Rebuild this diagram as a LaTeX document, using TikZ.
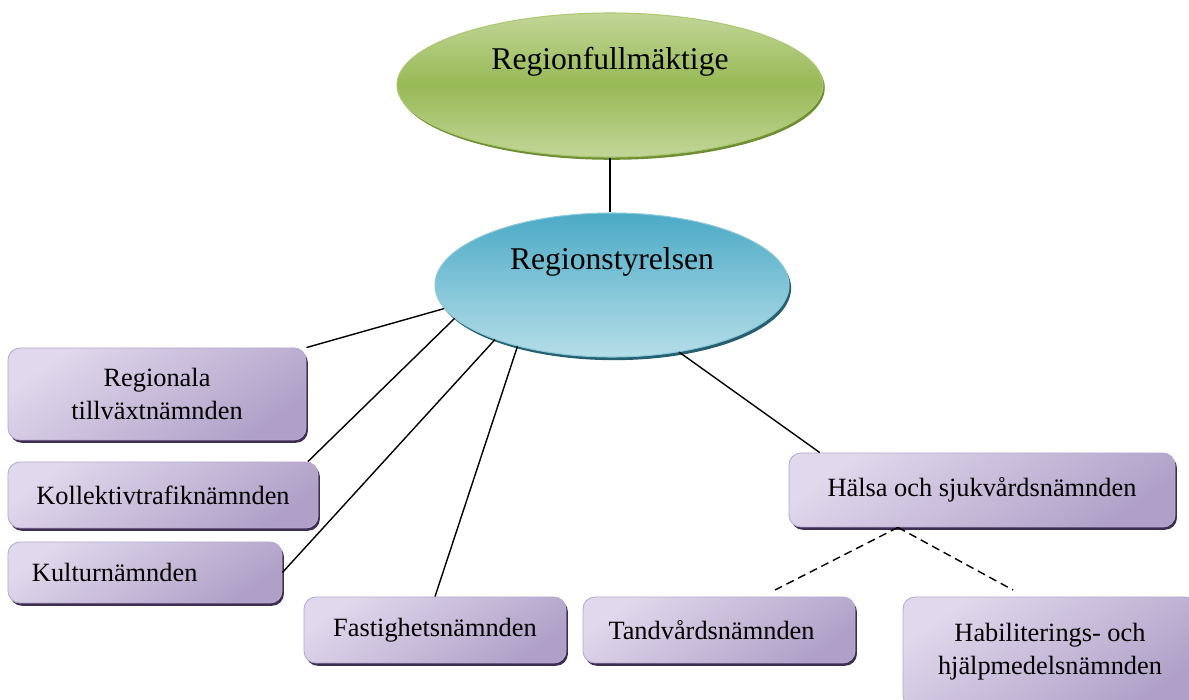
\documentclass[tikz,border=0pt]{standalone}
\usepackage{fontspec}
\setmainfont{Liberation Serif}
\usetikzlibrary{shapes}
\usetikzlibrary{positioning}
\usetikzlibrary{shadows}
\definecolor{boxlight}{RGB}{224,216,236}
\definecolor{boxdark}{RGB}{176,160,200}
\definecolor{boxedge}{RGB}{185,170,208}
\definecolor{boxshadow}{RGB}{62,46,82}
\definecolor{greenlight}{RGB}{194,214,152}
\definecolor{greenmid}{RGB}{152,185,86}
\definecolor{greenedge}{RGB}{172,200,112}
\definecolor{greenshadow}{RGB}{112,142,52}
\definecolor{bluetop}{RGB}{75,170,198}
\definecolor{bluebot}{RGB}{182,222,232}
\definecolor{blueedge}{RGB}{140,200,218}
\definecolor{blueshadow}{RGB}{36,96,112}
\tikzset{
    cell/.style = {rectangle, rounded corners=2.4mm, draw=boxedge, line width=0.5pt, top color=boxlight, bottom color=boxdark, shading angle=35, inner sep=0pt, align=center, font=\fontsize{15}{18.8}\selectfont, drop shadow={shadow xshift=1.1pt, shadow yshift=-1.6pt, fill=boxshadow, opacity=1}},
    mynodeg/.style = {ellipse, draw=greenedge, line width=0.6pt, top color=greenlight, bottom color=greenlight, middle color=greenmid, inner sep=0pt, minimum width=85.2mm, minimum height=28.8mm, drop shadow={shadow xshift=1pt, shadow yshift=-1.6pt, fill=greenshadow, opacity=1}},
    mynodeb/.style = {ellipse, draw=blueedge, line width=0.6pt, top color=bluetop, bottom color=bluebot, inner sep=0pt, minimum width=70.8mm, minimum height=28.8mm, drop shadow={shadow xshift=1.2pt, shadow yshift=-1.8pt, fill=blueshadow, opacity=1}},
    headtext/.style = {font=\fontsize{18}{22}\selectfont, yshift=4.6mm},
    edgen/.style = {line width=0.8pt, black},
    edged/.style = {line width=0.8pt, black, dash pattern=on 1.6mm off 1mm}, % under halsa
}

\begin{document}
\begin{tikzpicture}[x=0.2mm, y=-0.2mm]
  \useasboundingbox (0,0) rectangle (1189,700);

  \node[mynodeg, label={[headtext]center:Regionfullmäktige}] (fullm) at (610,85) {};
  \node[mynodeb, label={[headtext]center:Regionstyrelsen}] (styr) at (612,285) {};

  \node[cell, minimum width=59.6mm, minimum height=18.4mm] (reg) at (157,394) {Regionala\\tillväxtnämnden};
  \node[cell, minimum width=62mm, minimum height=13.2mm] (kol) at (163,495) {Kollektivtrafiknämnden};
  \node[cell, minimum width=54.8mm, minimum height=12.2mm, text width=45.2mm, align=left] (kul) at (145,572.5) {Kulturnämnden};
  \node[cell, minimum width=52.4mm, minimum height=13.2mm] (fast) at (435,630) {Fastighetsnämnden};
  \node[cell, minimum width=54.4mm, minimum height=13.2mm, text width=44.2mm, align=left] (tand) at (719,630) {Tandvårdsnämnden};
  \node[cell, minimum width=77.2mm, minimum height=14.8mm] (hal) at (982,490) {Hälsa och sjukvårdsnämnden};
  \node[cell, minimum width=58.8mm, minimum height=22mm] (hab) at (1050,652) {Habiliterings- och\\hjälpmedelsnämnden};

  \coordinate (tl) at (775,590);
  \coordinate (hb) at (1013,590);

  \draw[edgen] (fullm.south) -- (fullm.south |- styr.north);
  \draw[edgen] (reg.north east) -- (styr.188);
  \draw[edgen] (kol.13) -- (styr.192);
  \draw[edgen] (kul.east) -- (styr.205);
  \draw[edgen] (fast.north) -- (styr.213);
  \draw[edgen] (hal.167) -- (styr.315);

  \draw[edged] (hal.204) -- (tl);
  \draw[edged] (hal.204) -- (hb);
\end{tikzpicture}
\end{document}
